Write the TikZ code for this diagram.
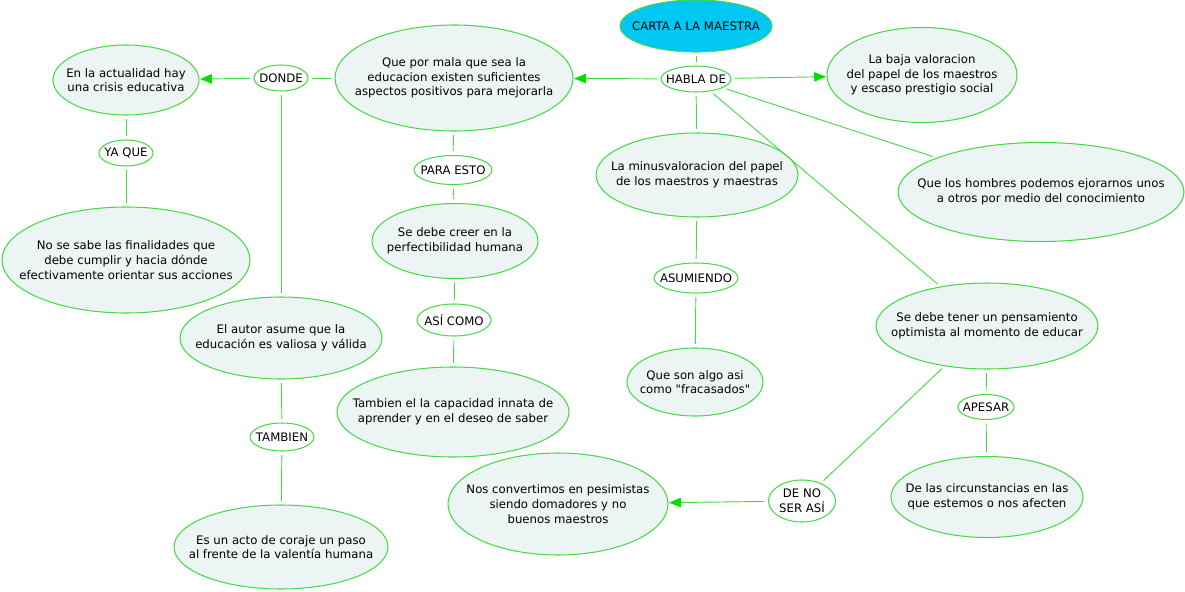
\documentclass[tikz,border=0pt]{standalone}
\usepackage{fontspec}
\newfontfamily\mapfont{DejaVu Sans}
\usetikzlibrary{shapes.geometric,arrows.meta}

\definecolor{mapgreen}{RGB}{70,218,70}
\definecolor{tipgreen}{RGB}{0,222,0}
\definecolor{conceptfill}{RGB}{237,244,244}
\definecolor{topcyan}{RGB}{0,200,242}

\tikzset{
  sz/.style 2 args={minimum width=#1*0.03cm, minimum height=#2*0.03cm},
  concept/.style={ellipse, draw=mapgreen, line width=0.9pt, fill=conceptfill,
    inner xsep=-60pt, inner ysep=-30pt, align=center,
    font=\mapfont\fontsize{10}{12.5}\selectfont},
  linkphrase/.style={concept, fill=white},
  conn/.style={draw=mapgreen, line width=0.8pt, shorten <=3pt, shorten >=3pt},
  arr/.style={conn, shorten >=0.5pt,
    -{Triangle[length=10pt, width=8pt, color=tipgreen]}}
}

\begin{document}
\begin{tikzpicture}[x=0.03cm, y=-0.03cm]
    \useasboundingbox (0,0) rectangle (1185,591);

    % Kavramlar
    \node[concept, fill=topcyan, sz={152}{52}] (carta) at (696,26) {CARTA A LA MAESTRA};
    \node[linkphrase, sz={70}{26}] (habla) at (696,79) {HABLA DE};
    \node[concept, sz={238}{106}] (mala) at (454,78) {Que por mala que sea la\\educacion existen suficientes\\aspectos positivos para mejorarla};
    \node[linkphrase, sz={54}{26}] (donde) at (281,78) {DONDE};
    \node[concept, sz={146}{70}] (crisis) at (126,80) {En la actualidad hay\\una crisis educativa};
    \node[linkphrase, sz={54}{26}] (yaque) at (126,153) {YA QUE};
    \node[concept, sz={248}{106}] (fines) at (126,260) {No se sabe las finalidades que\\debe cumplir y hacia dónde\\efectivamente orientar sus acciones};
    \node[concept, sz={202}{82}] (autor) at (281,338) {El autor asume que la\\educación es valiosa y válida};
    \node[linkphrase, sz={64}{28}] (tambien) at (282,437) {TAMBIEN};
    \node[concept, sz={214}{84}] (coraje) at (281,547) {Es un acto de coraje un paso\\al frente de la valentía humana};
    \node[linkphrase, sz={78}{29}] (paraesto) at (453,170) {PARA ESTO};
    \node[concept, sz={166}{75}] (creer) at (455,241) {Se debe creer en la\\perfectibilidad humana};
    \node[linkphrase, sz={74}{32}] (asicomo) at (454,320) {ASÍ COMO};
    \node[concept, sz={232}{90}] (innata) at (453,412) {Tambien el la capacidad innata de\\aprender y en el deseo de saber};
    \node[concept, sz={202}{84}] (minus) at (697,175) {La minusvaloracion del papel\\de los maestros y maestras};
    \node[linkphrase, sz={84}{30}] (asumiendo) at (696,278) {ASUMIENDO};
    \node[concept, sz={136}{68}] (fracaso) at (695,382) {Que son algo asi\\como "fracasados"};
    \node[concept, sz={190}{95}] (baja) at (922,75) {La baja valoracion\\del papel de los maestros\\y escaso prestigio social};
    \node[concept, sz={286}{99}] (hombres) at (1041,192) {Que los hombres podemos ejorarnos unos\\a otros por medio del conocimiento};
    \node[concept, sz={222}{86}] (optimista) at (987,326) {Se debe tener un pensamiento\\optimista al momento de educar};
    \node[linkphrase, sz={56}{25}] (apesar) at (986,407) {APESAR};
    \node[concept, sz={192}{81}] (circuns) at (987,497) {De las circunstancias en las\\que estemos o nos afecten};
    \node[linkphrase, sz={67}{42}] (denoser) at (802,501) {DE NO\\SER ASÍ};
    \node[concept, sz={220}{102}] (pesimistas) at (558,504) {Nos convertimos en pesimistas\\siendo domadores y no\\buenos maestros};

    % Bağlantılar
    \draw[conn] (carta) -- (habla);
    \draw[arr] (habla) -- (mala);
    \draw[arr] (habla) -- (baja);
    \draw[conn] (habla) -- (minus);
    \draw[conn] (habla) -- (hombres);
    \draw[conn] (habla) -- (optimista);
    \draw[conn] (mala) -- (donde);
    \draw[arr] (donde) -- (crisis);
    \draw[conn] (donde) -- (autor);
    \draw[conn] (crisis) -- (yaque);
    \draw[conn] (yaque) -- (fines);
    \draw[conn] (autor) -- (tambien);
    \draw[conn] (tambien) -- (coraje);
    \draw[conn] (mala) -- (paraesto);
    \draw[conn] (paraesto) -- (creer);
    \draw[conn] (creer) -- (asicomo);
    \draw[conn] (asicomo) -- (innata);
    \draw[conn] (minus) -- (asumiendo);
    \draw[conn] (asumiendo) -- (fracaso);
    \draw[conn] (optimista) -- (apesar);
    \draw[conn] (apesar) -- (circuns);
    \draw[conn] (optimista) -- (denoser);
    \draw[arr] (denoser) -- (pesimistas);
\end{tikzpicture}
\end{document}
